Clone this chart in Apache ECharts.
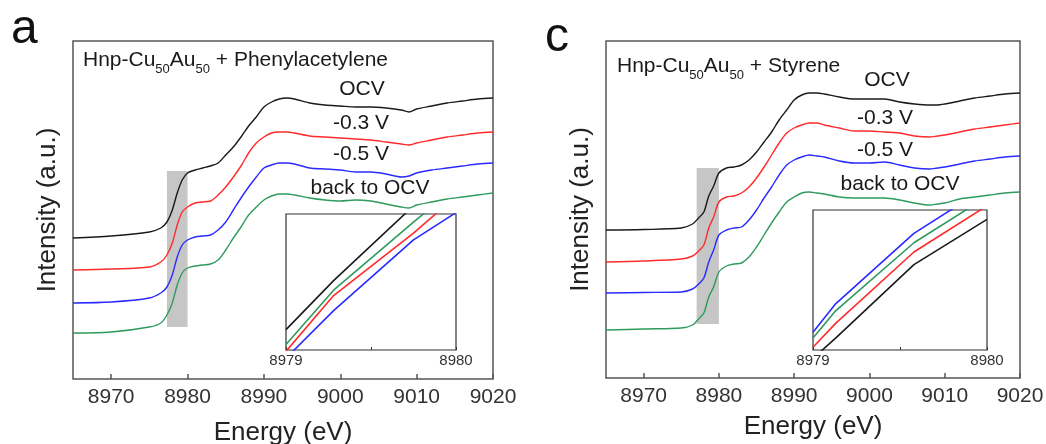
<!DOCTYPE html>
<html>
<head>
<meta charset="utf-8">
<script src="https://cdn.jsdelivr.net/npm/echarts@6/dist/echarts.min.js"></script>
<style>html,body{margin:0;padding:0;background:#fff}#c{width:1046px;height:444px}</style>
</head>
<body>
<div id="c"></div>
<script>
// ---------- DATA ----------
const energy = [8965, 8970, 8975, 8976.5, 8977.3, 8978, 8978.65, 8979.3, 8980, 8981, 8982, 8983, 8984, 8985, 8986, 8987, 8988, 8989, 8990, 8991, 8992, 8993, 8994, 8996, 8998, 9000, 9002, 9004, 9006, 9008, 9009, 9010, 9012, 9014, 9016, 9018, 9020];
const xTicks = [8970, 8980, 8990, 9000, 9010, 9020];
const seriesNames = ['OCV', '-0.3 V', '-0.5 V', 'back to OCV'];

// Panel a: Hnp-Cu50Au50 + Phenylacetylene (offset intensity, a.u.)
const aOCV   = [141, 143, 147, 151, 157, 169, 186, 199, 206, 209, 211, 213, 216, 224, 232, 242, 253, 262, 272, 277, 280, 281, 280, 276, 274, 273, 272, 272, 271, 269, 267, 270, 273, 276, 278, 280, 281];
const aM03   = [109, 110, 112, 117, 124, 136, 154, 167, 172, 176, 177, 178, 184, 192, 202, 213, 226, 236, 242, 246, 247, 247, 246, 243, 242, 241, 240, 239, 237, 235, 234, 236, 239, 242, 244, 246, 247];
const aM05   = [76, 77, 81, 86, 92, 104, 122, 134, 139, 142, 143, 144, 149, 157, 169, 181, 192, 202, 211, 214, 216, 216, 215, 211, 210, 209, 207, 207, 205, 202, 203, 206, 209, 211, 213, 215, 216];
const aBack  = [46, 47, 52, 56, 64, 76, 94, 106, 111, 113, 114, 115, 119, 129, 141, 152, 164, 172, 179, 183, 185, 185, 184, 181, 179, 178, 179, 178, 175, 172, 171, 174, 177, 180, 182, 184, 186];
const aHighlight = [8977.3, 8980, 52, 208];   // [E from, E to, I from, I to]

// Panel c: Hnp-Cu50Au50 + Styrene
const cOCV   = [148, 148.5, 150, 154, 160, 166, 182, 192, 205, 210, 211, 213, 218, 226, 236, 246, 258, 268, 278, 283, 285, 285, 284, 281, 279, 279, 279, 276, 274, 273, 273, 274, 277, 280, 282, 284, 285];
const cM03   = [116, 117, 119, 122, 127, 133, 150, 161, 176, 181, 182, 185, 191, 200, 211, 223, 235, 245, 250, 253, 255, 255, 253, 250, 247, 247, 246, 245, 242, 241, 242, 243, 246, 249, 251, 253, 255];
const cM05   = [85, 85.5, 86, 89, 94, 100, 116, 128, 143, 148, 150, 151, 158, 168, 180, 191, 203, 213, 218, 221, 223, 222, 221, 217, 215, 215, 216, 213, 210, 209, 210, 211, 214, 217, 219, 221, 222];
const cBack  = [48, 49, 50, 53, 59, 65, 81, 91, 106, 112, 114, 115, 121, 131, 143, 155, 166, 176, 181, 185, 186, 185, 184, 181, 180, 180, 180, 178, 175, 173, 174, 175, 179, 181, 183, 185, 186];
const cHighlight = [8977.04, 8980, 54, 210];

// Insets (8979-8980 eV zoom, relative intensity)
const insetTicks = [8979, 8980];
const aInsetE = [8979, 8979.28, 8979.75, 8980];
const aInOCV  = [0.15, 0.51, 1.06, 1.35];
const aInM03  = [-0.01, 0.40, 0.86, 1.13];
const aInM05  = [-0.06, 0.29, 0.81, 1.01];
const aInBack = [0.04, 0.44, 0.94, 1.20];
const cInsetE = [8979, 8979.13, 8979.58, 8980];
const cInOCV  = [-0.06, 0.085, 0.61, 0.933];
const cInM03  = [0.02, 0.19, 0.70, 1.03];
const cInM05  = [0.127, 0.33, 0.833, 1.165];
const cInBack = [0.086, 0.28, 0.766, 1.095];

// ---------- STYLE / LAYOUT ----------
const colors = ['#1a1a1a', '#ff2a2a', '#2a2aff', '#2e9a5c'];
const FONT = 'Liberation Sans, Arial, Helvetica, sans-serif';
const zip = (xs, ys) => xs.map((x, i) => [x, ys[i]]);
const plain = v => String(v);

const grids = [
  {left: 73, top: 41, width: 420, height: 338},
  {left: 286, top: 214, width: 170, height: 136},
  {left: 606, top: 41, width: 414, height: 337},
  {left: 813, top: 210, width: 174, height: 140}
].map(g => Object.assign({show: true, borderColor: '#555', borderWidth: 1.5, backgroundColor: '#fff',
  containLabel: false, outerBoundsMode: 'none'}, g));
grids[1].borderColor = '#333'; grids[3].borderColor = '#333';
grids[1].borderWidth = 1.2; grids[3].borderWidth = 1.2;

function mainX(gi, gap) {
  return {
    gridIndex: gi, type: 'value', min: 8965, max: 9020,
    axisLine: {show: false},
    axisTick: {show: true, inside: true, length: 5, customValues: xTicks, lineStyle: {color: '#555', width: 1.5}},
    axisLabel: {show: true, customValues: xTicks, formatter: plain, fontSize: 21, color: '#333', margin: 8, fontFamily: FONT},
    splitLine: {show: false},
    name: 'Energy (eV)', nameLocation: 'middle', nameGap: gap,
    nameTextStyle: {fontSize: 26, color: '#222', fontFamily: FONT}
  };
}
function insetX(gi) {
  return {
    gridIndex: gi, type: 'value', min: 8979, max: 8980,
    axisLine: {show: false},
    axisTick: {show: true, inside: true, length: 3, customValues: [8979, 8979.5, 8980], lineStyle: {color: '#333'}},
    axisLabel: {show: true, customValues: insetTicks, formatter: plain, fontSize: 15, color: '#333', margin: 3, fontFamily: FONT},
    splitLine: {show: false}
  };
}
function mainY(gi, max) {
  return {
    gridIndex: gi, type: 'value', min: 0, max: max,
    axisLine: {show: false}, axisTick: {show: false}, axisLabel: {show: false}, splitLine: {show: false},
    name: 'Intensity (a.u.)', nameLocation: 'middle', nameGap: 12, nameRotate: 90,
    nameTextStyle: {fontSize: 26, color: '#222', fontFamily: FONT}
  };
}
function insetY(gi) {
  return {gridIndex: gi, type: 'value', min: 0, max: 1,
    axisLine: {show: false}, axisTick: {show: false}, axisLabel: {show: false}, splitLine: {show: false}};
}

function lines(ax, xs, ysList, width, z, sm) {
  return ysList.map((ys, i) => ({
    type: 'line', name: seriesNames[i], xAxisIndex: ax, yAxisIndex: ax,
    data: zip(xs, ys), smooth: sm, showSymbol: false, symbol: 'none', clip: true,
    lineStyle: {color: colors[i], width: width}, z: z, silent: true
  }));
}
function box(ax, h) {
  return {
    type: 'line', xAxisIndex: ax, yAxisIndex: ax, data: [], z: 1, silent: true,
    markArea: {silent: true, itemStyle: {color: '#c6c6c6', opacity: 1},
      data: [[{coord: [h[0], h[2]]}, {coord: [h[1], h[3]]}]]}
  };
}

const labelText = (t, x, y) => ({type: 'text', x: x, y: y, style: {text: t, font: '21px ' + FONT, fill: '#1a1a1a', align: 'center', verticalAlign: 'middle'}});
const titleRich = (t, x, y) => ({
  type: 'text', x: x, y: y,
  style: {
    text: '{n|Hnp-Cu}{s|50}{n|Au}{s|50}{n| + ' + t + '}',
    align: 'left', verticalAlign: 'middle',
    rich: {
      n: {fontSize: 21, fontFamily: FONT, fill: '#1a1a1a', lineHeight: 24, verticalAlign: 'bottom'},
      s: {fontSize: 13, fontFamily: FONT, fill: '#1a1a1a', lineHeight: 13, padding: [0, 0, -5, 0], verticalAlign: 'bottom'}
    }
  }
});

const option = {
  animation: false,
  backgroundColor: '#fff',
  grid: grids,
  xAxis: [mainX(0, 41), insetX(1), mainX(2, 36), insetX(3)],
  yAxis: [mainY(0, 338), insetY(1), mainY(2, 337), insetY(3)],
  series: [
    box(0, aHighlight), box(2, cHighlight),
    ...lines(0, energy, [aOCV, aM03, aM05, aBack], 1.4, 3, 0.3),
    ...lines(1, aInsetE, [aInOCV, aInM03, aInM05, aInBack], 1.6, 3, false),
    ...lines(2, energy, [cOCV, cM03, cM05, cBack], 1.4, 3, 0.3),
    ...lines(3, cInsetE, [cInOCV, cInM03, cInM05, cInBack], 1.6, 3, false)
  ],
  graphic: [
    {type: 'text', x: 11, y: 30, style: {text: 'a', font: '48px ' + FONT, fill: '#111', align: 'left', verticalAlign: 'middle'}},
    {type: 'text', x: 545, y: 38, style: {text: 'c', font: '48px ' + FONT, fill: '#111', align: 'left', verticalAlign: 'middle'}},
    titleRich('Phenylacetylene', 83, 59),
    titleRich('Styrene', 617, 65),
    labelText('OCV', 362, 89), labelText('-0.3 V', 361, 123), labelText('-0.5 V', 361, 154), labelText('back to OCV', 370, 188),
    labelText('OCV', 887, 80), labelText('-0.3 V', 885, 118), labelText('-0.5 V', 885, 150), labelText('back to OCV', 900, 184)
  ]
};
const chart = echarts.init(document.getElementById('c'), null, {renderer: 'canvas'});
chart.setOption(option);
</script>
</body>
</html>
